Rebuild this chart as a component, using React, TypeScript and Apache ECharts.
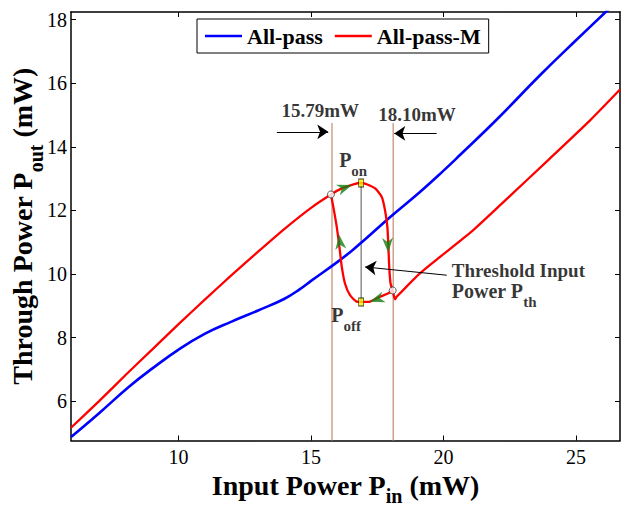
import React, { useEffect, useRef } from "react";
import * as echarts from "echarts";

const FONT = '"Liberation Serif", "Times New Roman", serif';

// Axis extents (mW)
const X_MIN = 5.94;
const X_MAX = 26.66;
const Y_MIN = 4.76;
const Y_MAX = 18.24;
const xTickValues = [10, 15, 20, 25];
const yTickValues = [6, 8, 10, 12, 14, 16, 18];

// All-pass ring: output vs input power [Pin, Pout]
const allPass: number[][] = [
  [5.94, 4.87], [7, 5.62], [8.14, 6.46], [9, 7.02], [10, 7.62], [11, 8.12],
  [12, 8.5], [13, 8.85], [14, 9.22], [14.58, 9.52], [15, 9.78], [16, 10.38],
  [16.54, 10.73], [17, 11.06], [18, 11.8], [19.11, 12.58], [20, 13.25],
  [20.62, 13.74], [22, 14.85], [23.64, 16.25], [25, 17.35], [26.12, 18.24],
  [26.7, 18.7],
];

// All-pass-M: lower branch, upper fold, right fold edge and the continuing branch
const allPassMMain: number[][] = [
  [5.94, 5.16], [7, 6.0], [8, 6.82], [9, 7.62], [10, 8.42], [11, 9.2],
  [12, 9.96], [13, 10.7], [14, 11.42], [15, 12.08], [15.75, 12.5],
  [16.16, 12.69], [16.6, 12.82], [16.89, 12.86], [17.1, 12.82], [17.42, 12.69],
  [17.67, 12.42], [17.79, 12.01], [17.88, 11.48], [17.92, 10.85], [17.95, 10.22],
  [18.0, 9.7], [18.08, 9.48], [18.17, 9.2], [18.23, 9.28], [19.11, 10.02],
  [21.12, 11.38], [22.5, 12.45], [24, 13.62], [25.53, 14.83], [26.66, 15.8],
];

// All-pass-M: lower part of the hysteresis loop (right fold back to left fold)
const allPassMLoop: number[][] = [
  [18.08, 9.48], [17.92, 9.39], [17.6, 9.28], [17.23, 9.13], [16.89, 9.12],
  [16.72, 9.13], [16.47, 9.33], [16.28, 9.7], [16.16, 10.22], [16.07, 10.85],
  [15.97, 11.48], [15.84, 12.11], [15.75, 12.5],
];

// Switching input powers (mW) and the top of their guide lines
const switchPowers = [15.79, 18.1];
const switchGuideTop = 14.75;

// Switching points on the loop
const pOn = [16.89, 12.86];
const pOff = [16.89, 9.12];
const foldPoints: number[][] = [[15.75, 12.5], [18.08, 9.48]];

// Direction of travel around the loop: [Pin, Pout, rotation]
const flowArrows: number[][] = [
  [16.28, 12.72, -70],
  [17.9, 10.9, 183],
  [17.48, 9.2, 108],
  [16.09, 11.01, 7],
];

// Text anchors in data coordinates
const notes = [
  { value: [15.35, 15.15], text: "15.79mW", align: "center" },
  { value: [19.0, 15.02], text: "18.10mW", align: "center" },
  { value: [16.06, 13.58], text: "{p|P}{s|on}", align: "left" },
  { value: [15.76, 8.7], text: "{p|P}{s|off}", align: "left" },
  { value: [20.31, 10.1], text: "Threshold Input", align: "left" },
  { value: [20.31, 9.46], text: "{p|Power P}{s|th}", align: "left" },
];

// Pointer arrows: [[x1, y1], [x2, y2]], head at the second point
const pointers: number[][][] = [
  [[13.71, 14.47], [15.65, 14.47]],
  [[19.74, 14.42], [18.14, 14.42]],
  [[20.12, 9.96], [17.04, 10.22]],
];

const ARROW_UP = "path://M0,0 L6,16 L0,11.5 L-6,16 Z";

export default function App() {
  const ref = useRef<HTMLDivElement>(null);

  useEffect(() => {
    document.body.style.margin = "0";
    const chart = echarts.init(ref.current!, null, { renderer: "svg" });

    const axisLineStyle = { color: "#000", width: 1.5 };
    const tickStyle = { color: "#000", width: 1 };
    const richSub = (size: number, main: number, drop: number) => ({
      p: { fontFamily: FONT, fontSize: main, fontWeight: "bold", color: "#000" },
      s: {
        fontFamily: FONT,
        fontSize: size,
        fontWeight: "bold",
        color: "#000",
        padding: [drop, 0, 0, 0],
      },
    });

    chart.setOption({
      animation: false,
      backgroundColor: "#fff",
      textStyle: { fontFamily: FONT },
      grid: {
        left: 71,
        right: 1,
        top: 12,
        bottom: 65.5,
        containLabel: false,
        outerBoundsMode: "none",
      },
      legend: {
        data: [
          { name: "All-pass", icon: "rect" },
          { name: "All-pass-M", icon: "rect" },
        ],
        left: 197,
        top: 19,
        itemWidth: 37,
        itemHeight: 2.5,
        itemGap: 12,
        padding: [6, 8, 6, 8],
        borderColor: "#000",
        borderWidth: 1,
        backgroundColor: "#fff",
        selectedMode: false,
        textStyle: { fontFamily: FONT, fontWeight: "bold", fontSize: 22, color: "#000" },
      },
      xAxis: [
        {
          type: "value",
          min: X_MIN,
          max: X_MAX,
          position: "bottom",
          splitLine: { show: false },
          axisLine: { lineStyle: axisLineStyle },
          axisTick: { inside: true, length: 5, lineStyle: tickStyle, customValues: xTickValues },
          axisLabel: {
            customValues: xTickValues,
            fontFamily: FONT,
            fontSize: 20,
            color: "#000",
            margin: 6,
          },
          name: "{p|Input Power P}{s|in}{p| (mW)}",
          nameLocation: "middle",
          nameGap: 21,
          nameTextStyle: { rich: richSub(20, 28, 22) },
        },
        {
          type: "value",
          min: X_MIN,
          max: X_MAX,
          position: "top",
          splitLine: { show: false },
          axisLine: { lineStyle: axisLineStyle },
          axisTick: { inside: true, length: 5, lineStyle: tickStyle, customValues: xTickValues },
          axisLabel: { show: false },
        },
      ],
      yAxis: [
        {
          type: "value",
          min: Y_MIN,
          max: Y_MAX,
          position: "left",
          splitLine: { show: false },
          axisLine: { lineStyle: axisLineStyle },
          axisTick: { inside: true, length: 5, lineStyle: tickStyle, customValues: yTickValues },
          axisLabel: {
            customValues: yTickValues,
            fontFamily: FONT,
            fontSize: 20,
            color: "#000",
            margin: 4,
          },
          name: "{p|Through Power P}{s|out}{p| (mW)}",
          nameLocation: "middle",
          nameGap: 25,
          nameMoveOverlap: false,
          nameTextStyle: { rich: richSub(20, 28, 28) },
        },
        {
          type: "value",
          min: Y_MIN,
          max: Y_MAX,
          position: "right",
          splitLine: { show: false },
          axisLine: { lineStyle: axisLineStyle },
          axisTick: { inside: true, length: 5, lineStyle: tickStyle, customValues: yTickValues },
          axisLabel: { show: false },
        },
      ],
      series: [
        ...switchPowers.map((p) => ({
          type: "line",
          name: "switch-" + p,
          data: [[p, Y_MIN], [p, switchGuideTop]],
          symbol: "none",
          silent: true,
          lineStyle: { color: "#c9937c", width: 1.3 },
          z: 1,
        })),
        {
          type: "line",
          name: "on-off",
          data: [pOn, pOff],
          symbol: "none",
          silent: true,
          lineStyle: { color: "#555", width: 1 },
          z: 1,
        },
        {
          type: "line",
          name: "All-pass",
          data: allPass,
          symbol: "none",
          smooth: 0.45,
          clip: true,
          color: "#0000ff",
          lineStyle: { color: "#0000ff", width: 2.6 },
          z: 2,
        },
        {
          type: "line",
          name: "All-pass-M",
          data: allPassMMain,
          symbol: "none",
          smooth: 0.2,
          color: "#ff0000",
          lineStyle: { color: "#ff0000", width: 2.3 },
          z: 3,
        },
        {
          type: "line",
          name: "All-pass-M",
          data: allPassMLoop,
          symbol: "none",
          smooth: 0.2,
          color: "#ff0000",
          lineStyle: { color: "#ff0000", width: 2.3 },
          z: 3,
        },
        {
          type: "scatter",
          name: "fold",
          data: foldPoints,
          symbol: "circle",
          symbolSize: 7,
          itemStyle: { color: "#fff", borderColor: "#333", borderWidth: 1 },
          z: 5,
        },
        {
          type: "scatter",
          name: "switch points",
          data: [pOn, pOff],
          symbol: "rect",
          symbolSize: [5, 8],
          itemStyle: { color: "#ffee00", borderColor: "#000", borderWidth: 0.8 },
          z: 5,
        },
        {
          type: "scatter",
          name: "flow",
          data: flowArrows.map((a) => ({
            value: [a[0], a[1]],
            symbolRotate: a[2],
          })),
          symbol: ARROW_UP,
          symbolSize: [11, 15],
          itemStyle: { color: "#148014" },
          z: 6,
        },
        {
          type: "scatter",
          name: "notes",
          silent: true,
          symbolSize: 0,
          data: notes.map((n) => ({
            value: n.value,
            label: {
              show: true,
              position: "inside",
              align: n.align,
              verticalAlign: "middle",
              formatter: n.text,
              fontFamily: FONT,
              fontWeight: "bold",
              fontSize: 19,
              color: "#000",
              rich: richSub(15, 20, 22),
            },
          })),
          markLine: {
            silent: true,
            symbol: ["none", "arrow"],
            symbolSize: 11,
            label: { show: false },
            lineStyle: { color: "#000", width: 1, type: "solid" },
            emphasis: { disabled: true },
            data: pointers.map((p) => [{ coord: p[0] }, { coord: p[1] }]),
          },
          z: 7,
        },
      ],
    });

    return () => chart.dispose();
  }, []);

  return <div ref={ref} style={{ width: 621, height: 506 }} />;
}
